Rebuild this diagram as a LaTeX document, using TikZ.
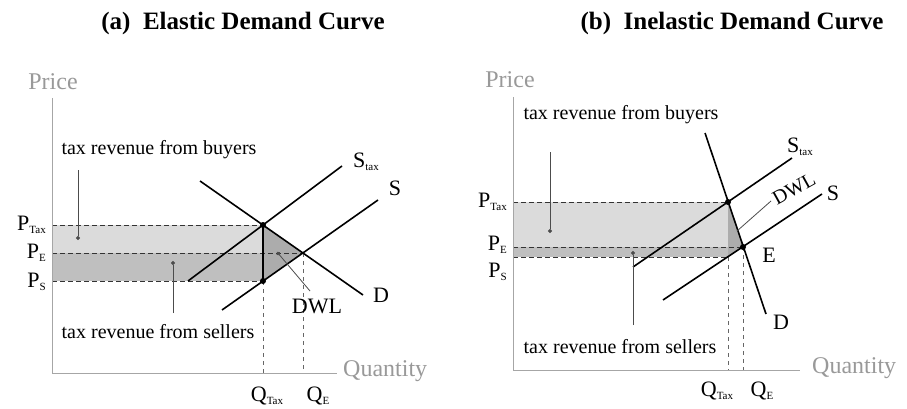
\documentclass[tikz,border=0pt]{standalone}
\usepackage{fontspec}
\setmainfont{Liberation Serif}
\usetikzlibrary{arrows.meta}
\newcommand{\lsb}[1]{\raisebox{-0.25ex}{\fontsize{11}{11}\selectfont #1}}
\tikzset{
  curve/.style={line width=1.6pt, black},
  axis/.style={line width=1pt, gray!70},
  guide/.style={line width=0.9pt, black!80, dash pattern=on 5pt off 3pt},
  vguide/.style={line width=0.8pt, black!60, dash pattern=on 4pt off 4pt},
  pointer/.style={line width=0.8pt, black!70, -{Circle[length=4pt]}},
  lbl/.style={font=\fontsize{20}{22}\selectfont, inner sep=0pt},
  plbl/.style={font=\fontsize{22}{24}\selectfont, inner sep=0pt},
  big/.style={font=\fontsize{22}{24}\selectfont, inner sep=0pt},
  axlbl/.style={font=\fontsize{24}{26}\selectfont, inner sep=0pt, text=gray!80},
  ttl/.style={font=\fontsize{25}{27}\selectfont\bfseries, inner sep=0pt},
  dotpt/.style={circle, fill=black, inner sep=0pt, minimum size=6pt},
  upperband/.style={fill=gray!28},
  lowerband/.style={fill=gray!50},
  dwl/.style={fill=gray!65},
}
\begin{document}
\begin{tikzpicture}[x=1pt,y=-1pt]
\useasboundingbox (0,0) rectangle (907,409);
% ================= Panel (a) =================
\node[ttl] (ta) at (243,23) {(a)\ \ Elastic Demand Curve};
\coordinate (aO) at (52,373);
\coordinate (aY) at (52,98);
\coordinate (aX) at (337,373);
\coordinate (aT) at (263,225);
\coordinate (aE) at (303,253);
\coordinate (aS) at (263,281);
\coordinate (aTl) at (52,225);
\coordinate (aEl) at (52,253);
\coordinate (aSl) at (52,281);
\coordinate (aQt) at (263,373);
\coordinate (aQe) at (303,373);
% bands
\fill[upperband] (aTl) rectangle (aT |- aEl);
\fill[lowerband] (aEl) rectangle (aS);
\fill[dwl] (aT) -- (aE) -- (aS) -- cycle;
% guides
\draw[guide] (aTl) -- (aT);
\draw[guide] (aEl) -- (aE);
\draw[guide] (aSl) -- (aS);
\draw[vguide] (aS) -- (aQt);
\draw[vguide] (aE) -- (aQe);
% axes
\draw[axis] (aY) -- (aO) -- (aX);
% curves
\coordinate (aD1) at (200,181);
\coordinate (aD2) at (363,295);
\coordinate (aSt1) at (188,281);
\coordinate (aSt2) at (342,166);
\coordinate (aS1) at (222,310);
\coordinate (aS2) at (378,200);
\draw[curve] (aD1) -- (aD2);
\draw[curve] (aSt1) -- (aSt2);
\draw[curve] (aS1) -- (aS2);
\draw[curve] (aT) -- (aS);
\node[dotpt] (adT) at (aT) {};
\node[dotpt] (adS) at (aS) {};
% labels
\node[axlbl] (apr) at (53,82) {Price};
\node[axlbl, anchor=west] (aqu) at (343,371) {Quantity};
\node[plbl, anchor=east] (apt) at (46,225) {P\lsb{Tax}};
\node[plbl, anchor=east] (ape) at (46,253) {P\lsb{E}};
\node[plbl, anchor=east] (aps) at (46,282) {P\lsb{S}};
\node[plbl] (aqt) at (267,396) {Q\lsb{Tax}};
\node[plbl] (aqe) at (318,396) {Q\lsb{E}};
\node[big] (astl) at (366,162) {S\lsb{tax}};
\node[big] (asl) at (395,188) {S};
\node[big] (adl) at (381,295) {D};
\node[big] (adwl) at (317,306) {DWL};
\node[lbl] (abuy) at (159,150) {tax revenue from buyers};
\node[lbl] (asell) at (158,332) {tax revenue from sellers};
\coordinate (abuy0) at (78,170);
\coordinate (abuy1) at (78,240);
\coordinate (asell0) at (173,313);
\coordinate (asell1) at (173,261);
\coordinate (adw0) at (310,291);
\coordinate (adw1) at (277,252);
\draw[pointer] (abuy0) -- (abuy1);
\draw[pointer] (asell0) -- (asell1);
\draw[pointer] (adw0) -- (adw1);
% ================= Panel (b) =================
\node[ttl] (tb) at (732,23) {(b)\ \ Inelastic Demand Curve};
\coordinate (bO) at (513,370);
\coordinate (bY) at (513,97);
\coordinate (bX) at (800,370);
\coordinate (bT) at (728,202);
\coordinate (bE) at (743,247);
\coordinate (bS) at (728,257);
\coordinate (bTl) at (513,202);
\coordinate (bEl) at (513,247);
\coordinate (bSl) at (513,257);
\coordinate (bQt) at (728,370);
\coordinate (bQe) at (743,370);
\fill[upperband] (bTl) rectangle (bT |- bEl);
\fill[lowerband] (bEl) rectangle (bS);
\fill[dwl] (bT) -- (bE) -- (bS) -- cycle;
\draw[guide] (bTl) -- (bT);
\draw[guide] (bEl) -- (bE);
\draw[guide] (bSl) -- (bS);
\draw[vguide] (bS) -- (bQt);
\draw[vguide] (bE) -- (bQe);
\draw[axis] (bY) -- (bO) -- (bX);
\coordinate (bD1) at (705,133);
\coordinate (bD2) at (766,314);
\coordinate (bSt1) at (633,267);
\coordinate (bSt2) at (792,158);
\coordinate (bS1) at (663,300);
\coordinate (bS2) at (822,194);
\draw[curve] (bD1) -- (bD2);
\draw[curve] (bSt1) -- (bSt2);
\draw[curve] (bS1) -- (bS2);
\node[dotpt] (bdT) at (bT) {};
\node[dotpt] (bdE) at (bE) {};
\node[axlbl] (bpr) at (510,80) {Price};
\node[axlbl, anchor=west] (bqu) at (812,368) {Quantity};
\node[plbl, anchor=east] (bpt) at (507,202) {P\lsb{Tax}};
\node[plbl, anchor=east] (bpe) at (507,245) {P\lsb{E}};
\node[plbl, anchor=east] (bps) at (507,272) {P\lsb{S}};
\node[plbl] (bqt) at (717,391) {Q\lsb{Tax}};
\node[plbl] (bqe) at (762,391) {Q\lsb{E}};
\node[big] (bstl) at (800,147) {S\lsb{tax}};
\node[big] (bsl) at (833,193) {S};
\node[big] (bel) at (769,255) {E};
\node[big] (bdl) at (781,322) {D};
\node[lbl, rotate=29] (bdwl) at (794,189) {DWL};
\node[lbl] (bbuy) at (621,115) {tax revenue from buyers};
\node[lbl] (bsell) at (620,347) {tax revenue from sellers};
\coordinate (bbuy0) at (550,152);
\coordinate (bbuy1) at (550,233);
\coordinate (bsell0) at (633,325);
\coordinate (bsell1) at (633,251);
\coordinate (bdw0) at (771,201);
\coordinate (bdw1) at (737,231);
\draw[pointer] (bbuy0) -- (bbuy1);
\draw[pointer] (bsell0) -- (bsell1);
\draw[line width=0.8pt, black!70] (bdw0) -- (bdw1);
\end{tikzpicture}
\end{document}
